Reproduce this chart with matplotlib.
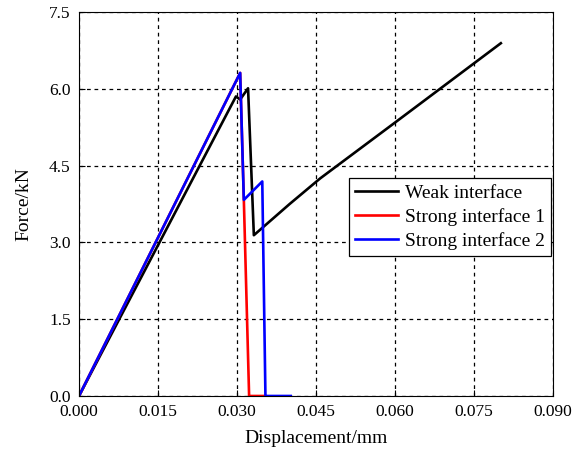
import numpy as np
import matplotlib
matplotlib.use("Agg")
import matplotlib.pyplot as plt

plt.rcParams['font.family'] = ['Liberation Serif', 'DejaVu Serif']

# data
weak_x = [0.0, 0.0298, 0.0306, 0.0321, 0.0332, 0.0400, 0.0458, 0.0600, 0.0801]
weak_y = [0.0, 5.85, 5.79, 6.01, 3.14, 3.75, 4.25, 5.34, 6.89]

strong1_x = [0.0, 0.0306, 0.0313, 0.0323, 0.0353]
strong1_y = [0.0, 6.31, 3.83, 0.0, 0.0]

strong2_x = [0.0, 0.0306, 0.0313, 0.0348, 0.0354, 0.0402]
strong2_y = [0.0, 6.31, 3.83, 4.19, 0.0, 0.0]

labels = ["Weak interface", "Strong interface 1", "Strong interface 2"]
xticks = [0.000, 0.015, 0.030, 0.045, 0.060, 0.075, 0.090]
yticks = [0.0, 1.5, 3.0, 4.5, 6.0, 7.5]

fig = plt.figure(figsize=(5.75, 4.54), dpi=100)
ax = fig.add_axes([0.1374, 0.1278, 0.8243, 0.8458])

ax.plot(weak_x, weak_y, color='black', lw=1.9, label=labels[0])
ax.plot(strong1_x, strong1_y, color='red', lw=1.9, label=labels[1])
ax.plot(strong2_x, strong2_y, color='blue', lw=1.9, label=labels[2])

ax.set_xlim(0, 0.09)
ax.set_ylim(0, 7.5)
ax.set_xticks(xticks)
ax.set_yticks(yticks)
ax.set_xticklabels(["{:.3f}".format(v) for v in xticks])
ax.set_yticklabels(["{:.1f}".format(v) for v in yticks])
ax.tick_params(direction='in', labelsize=12.5, length=4, pad=6)
ax.grid(True, color='black', linestyle=(0, (3, 3)), lw=0.9)

ax.set_xlabel("Displacement/mm", fontsize=14, labelpad=7)
ax.set_ylabel("Force/kN", fontsize=14, labelpad=12)

leg = ax.legend(loc='upper right', bbox_to_anchor=(0.995, 0.567), borderaxespad=0,
                fontsize=14, fancybox=False, framealpha=1, edgecolor='black',
                handlelength=2.2, labelspacing=0.33, borderpad=0.3, handletextpad=0.35)
leg.get_frame().set_linewidth(0.9)

fig.savefig("out.png", dpi=100)
